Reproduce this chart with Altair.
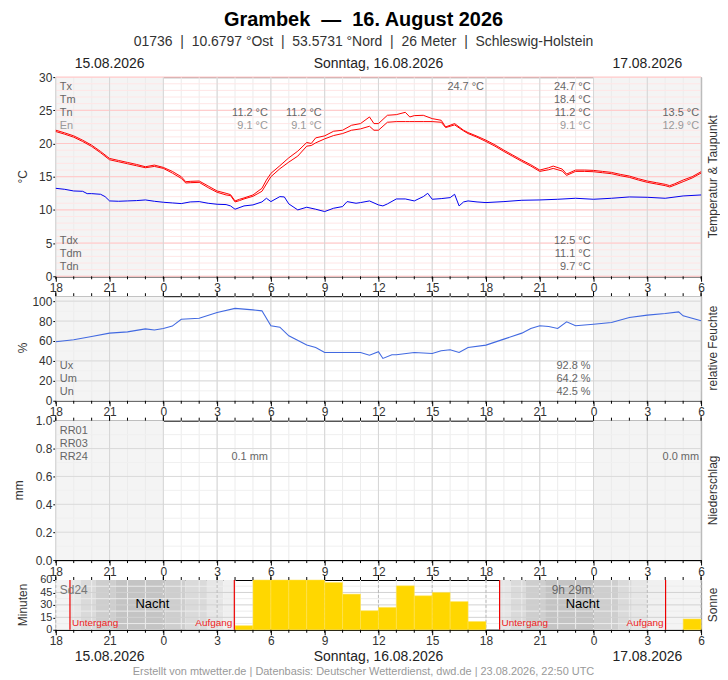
import altair as alt
import pandas as pd

FONT = "Liberation Sans"

# ---------------- data (x = hours since 15.08.2026 18:00 UTC) ----------------
t_time = [0, 0.5, 1, 1.5, 2, 2.5, 3, 3.5, 4, 4.5, 5, 5.5, 6, 6.5, 7,
          7.25, 7.5, 8, 8.5, 9, 9.5, 9.75,
          10, 10.25, 10.5, 11, 11.5, 11.75,
          12, 12.5, 13, 13.5, 14, 14.25, 14.5, 15, 15.5, 16, 16.5, 17, 17.5, 17.75,
          18, 18.5, 19, 19.5, 19.75, 20, 20.5, 21, 21.5, 21.75, 22.25, 22.75, 23, 23.5,
          24, 24.5, 25, 25.5, 26, 26.5, 27, 27.5, 27.75, 28.25, 28.5, 29, 29.5,
          30, 30.5, 31, 31.5, 32, 32.5, 33, 33.5, 34, 34.25, 34.5, 35, 35.5, 36]
t_air = [22.0, 21.6, 21.15, 20.5, 19.75, 18.8, 17.75, 17.45, 17.15, 16.85, 16.5, 16.75, 16.4, 15.8, 15.0,
         14.25, 14.3, 14.35, 13.6, 12.85, 12.5, 12.3,
         11.35, 11.6, 11.8, 12.25, 13.25, 14.5,
         15.5, 16.65, 17.85, 18.85, 20.15, 20.0, 20.85, 21.15, 21.85, 22.0, 22.75, 23.0, 24.0, 23.0,
         23.0, 24.25, 24.35, 24.7, 24.0, 24.2, 24.25, 23.75, 23.5, 22.5, 23.0, 22.0, 21.65, 21.1,
         20.5, 19.8, 19.0, 18.25, 17.5, 16.8, 16.0, 16.35, 16.6, 16.15, 15.4, 16.0, 16.0,
         15.95, 15.8, 15.65, 15.35, 15.1, 14.7, 14.35, 14.1, 13.85, 13.65, 13.9, 14.5, 15.0, 15.75]
t_low = [21.8, 21.4, 20.95, 20.3, 19.55, 18.6, 17.55, 17.25, 16.95, 16.65, 16.35, 16.55, 16.25, 15.55, 14.75,
         14.05, 14.1, 14.15, 13.35, 12.65, 12.25, 12.15,
         11.2, 11.4, 11.65, 12.05, 12.8, 13.9,
         15.0, 16.2, 17.2, 18.1, 19.6, 19.7, 20.1, 20.7, 21.2, 21.5, 22.0, 22.2, 22.6, 22.0,
         22.0, 23.2, 23.3, 23.3, 23.3, 23.3, 23.3, 23.3, 23.2, 22.4, 22.8, 21.9, 21.5, 20.95,
         20.3, 19.6, 18.8, 18.05, 17.3, 16.6, 15.8, 16.05, 16.25, 15.85, 15.2, 15.8, 15.8,
         15.75, 15.6, 15.45, 15.15, 14.9, 14.5, 14.15, 13.9, 13.65, 13.45, 13.7, 14.25, 14.8, 15.55]
dp_time = [0, 0.5, 1, 1.5, 1.75, 2, 2.5, 2.75, 3, 3.5,
           4, 4.5, 5, 5.5, 6, 6.5, 7, 7.5, 8, 8.5,
           9, 9.5, 9.75, 10, 10.5, 11, 11.5, 11.75, 12, 12.5,
           12.75, 13, 13.5, 14, 14.5, 15, 15.5, 16, 16.25, 16.75,
           17, 17.5, 18, 18.25, 18.5, 19, 19.5, 20, 20.5, 20.75,
           21, 21.5, 22, 22.25, 22.5, 22.75, 23, 23.5, 24, 25,
           26, 27, 28, 29, 30, 31, 32, 33, 34, 35, 36]
dp = [13.25, 13.1, 12.85, 12.8, 12.45, 12.45, 12.35, 12.0, 11.35, 11.3,
      11.35, 11.4, 11.5, 11.3, 11.15, 11.05, 10.95, 11.2, 11.25, 11.0,
      10.85, 10.8, 10.6, 10.1, 10.6, 10.75, 11.2, 11.75, 11.25, 12.0,
      11.95, 10.9, 10.0, 10.4, 10.1, 9.75, 10.25, 10.5, 11.25, 11.0,
      11.1, 11.35, 10.75, 10.6, 10.9, 11.65, 11.65, 11.35, 12.0, 12.5,
      11.6, 11.7, 11.85, 12.35, 10.6, 11.2, 11.35, 11.2, 11.1, 11.25,
      11.45, 11.5, 11.6, 11.75, 11.6, 11.75, 11.95, 11.9, 11.75, 12.1, 12.25]
rh_time = [0, 1, 2, 3, 4, 5, 5.5, 6, 6.5, 7, 8, 9, 10, 11, 11.5,
           12, 12.5, 13, 14, 14.5, 15, 16, 17, 17.5, 18, 18.25, 18.75, 19,
           20, 21, 21.5, 22, 22.5, 23, 24, 25, 26, 26.5, 27, 27.5, 28, 28.5, 29,
           30, 31, 32, 33, 34, 34.75, 35, 36]
rh = [59.2, 61.2, 64.5, 67.9, 69.2, 72.2, 71.0, 72.6, 75.0, 81.9, 82.9, 88.6, 92.8, 91.3, 90.3,
      75.3, 73.9, 65.2, 55.9, 53.5, 48.5, 48.5, 48.5, 45.8, 49.2, 42.5, 46.2, 46.2,
      48.5, 47.5, 50.2, 51.2, 48.5, 53.5, 55.9, 61.9, 67.9, 72.6, 75.3, 74.6, 72.6, 79.3, 75.3,
      76.9, 78.6, 83.6, 86.0, 87.6, 89.3, 85.3, 80.3]
sun_hour = [10, 11, 12, 13, 14, 15, 16, 17, 18, 19, 20, 21, 22, 23, 35]
sun_minutes = [5, 60, 60, 60, 60, 57, 43, 23, 27, 53, 41, 45, 34, 10, 13]
sunset_h = [0.79, 24.76]
sunrise_h = [9.96, 34.02]
dusk_start = [0.79, 1.39, 2.22, 3.33, 6.11, 7.22, 8.43, 9.35,
              24.76, 25.37, 26.2, 27.3, 30.07, 31.39, 32.13, 33.06]
dusk_end = [1.39, 2.22, 3.33, 6.11, 7.22, 8.43, 9.35, 9.96,
            25.37, 26.2, 27.3, 30.07, 31.39, 32.13, 33.06, 34.02]
dusk_level = [1, 2, 3, 4, 3, 2, 1, 0,
              1, 2, 3, 4, 3, 2, 1, 0]
offday_start = [0, 30]
offday_end = [6, 36]
x_ticks = list(range(0, 37, 3))
hour_ticks = list(range(0, 37))

# ---------------- geometry ----------------
W = 648
HT, HH, HP, HS = 200, 105, 140, 50
ONE = pd.DataFrame({"d": [0]})

xs = alt.Scale(domain=[0, 36], nice=False, zero=False)
xaxis = alt.Axis(values=x_ticks, labelExpr="toString((datum.value + 18) % 24)",
                 tickSize=5, tickColor="black", domainColor="black", labelColor="#333",
                 labelFontSize=12, labelFont=FONT, grid=False, title=None, labelPadding=1,
                 labelFlush=False, labelOverlap=False)
X = alt.X("h:Q", scale=xs, axis=xaxis)

hours_df = pd.DataFrame({"h": hour_ticks})
major_df = pd.DataFrame({"h": x_ticks})
off_df = pd.DataFrame({"h": offday_start, "h2": offday_end})


def yenc(domain, values, fmt=None, size=12):
    ax = dict(values=values, tickSize=3, tickColor="black", domainColor="black",
              labelColor="#333", labelFontSize=size, labelFont=FONT, grid=False,
              title=None, labelPadding=1, labelFlush=False, labelOverlap=False)
    if fmt:
        ax["format"] = fmt
    return alt.Y("v:Q", scale=alt.Scale(domain=domain, nice=False, zero=False),
                 axis=alt.Axis(**ax))


def txt(s, x, y, size=11, color="#666", align="left", weight="normal", angle=0,
        baseline="middle"):
    return alt.Chart(ONE).mark_text(text=s, align=align, baseline=baseline, fontSize=size,
                                    color=color, font=FONT, fontWeight=weight,
                                    angle=angle).encode(x=alt.value(x), y=alt.value(y))


def bg_layer(H):
    return alt.Chart(off_df).mark_rect(color="#f4f4f4").encode(
        x=X, x2="h2:Q", y=alt.value(0), y2=alt.value(H))


def grid_layers(Y, hminor, hmajor, cminor, cmajor, vdash=None):
    ls = []
    ls.append(alt.Chart(hours_df).mark_rule(color="#ececec").encode(x=X))
    ls.append(alt.Chart(pd.DataFrame({"v": hminor})).mark_rule(color=cminor).encode(y=Y))
    ls.append(alt.Chart(pd.DataFrame({"v": hmajor})).mark_rule(color=cmajor).encode(y=Y))
    if vdash:
        ls.append(alt.Chart(major_df).mark_rule(color="#b8b8b8", strokeDash=vdash).encode(x=X))
    else:
        ls.append(alt.Chart(major_df).mark_rule(color="#d6d6d6").encode(x=X))
    return ls


def tick_layers(H, top=True):
    ls = [alt.Chart(hours_df).mark_rule(color="black").encode(
        x=X, y=alt.value(H), y2=alt.value(H + 3))]
    if top:
        ls.append(alt.Chart(hours_df).mark_rule(color="black").encode(
            x=X, y=alt.value(0), y2=alt.value(-3)))
        ls.append(alt.Chart(major_df).mark_rule(color="black").encode(
            x=X, y=alt.value(0), y2=alt.value(-5)))
    return ls


# ---------------- temperature panel ----------------
YT = yenc([0, 30], list(range(0, 31, 5)))
red1 = alt.Chart(pd.DataFrame({"h": t_time, "v": t_air})).mark_line(
    color="#ff0000", strokeWidth=1).encode(x=X, y=YT)
red2 = alt.Chart(pd.DataFrame({"h": t_time, "v": t_low})).mark_line(
    color="#ff0000", strokeWidth=1).encode(x=X, y=YT)
blue = alt.Chart(pd.DataFrame({"h": dp_time, "v": dp})).mark_line(
    color="#0000ee", strokeWidth=1).encode(x=X, y=YT)

anchor = alt.Chart(ONE).mark_rect(opacity=0).encode(
    x=alt.value(-47), x2=alt.value(665), y=alt.value(-67), y2=alt.value(597))

temp_layers = [anchor, bg_layer(HT)] + grid_layers(
    YT, list(range(0, 31)), list(range(0, 31, 5)), "#ffe6e6", "#ffc6c6") + [red1, red2, blue] + tick_layers(HT, top=False)
temp_layers += [
    txt("Grambek\u00a0\u00a0—\u00a0\u00a016. August 2026", 309, -57, size=20, color="#000",
        align="center", weight="bold"),
    txt("01736\u00a0\u00a0|\u00a0\u00a010.6797 °Ost\u00a0\u00a0|\u00a0\u00a053.5731 °Nord\u00a0\u00a0|\u00a0\u00a026 Meter\u00a0\u00a0|\u00a0\u00a0Schleswig-Holstein",
        309, -35, size=14, color="#333", align="center"),
    txt("15.08.2026", 54, -13, size=14, color="#222", align="center"),
    txt("Sonntag, 16.08.2026", 324, -13, size=14, color="#222", align="center"),
    txt("17.08.2026", 594, -13, size=14, color="#222", align="center"),
    txt("°C", -33, 100, size=12, color="#333", align="center", angle=270),
    txt("Temperatur & Taupunkt", 660, 100, size=12, color="#333", align="center", angle=270),
    txt("Tx", 4, 10), txt("Tm", 4, 23), txt("Tn", 4, 36), txt("En", 4, 49, color="#999"),
    txt("Tdx", 4, 165), txt("Tdm", 4, 178), txt("Tdn", 4, 191),
    txt("11.2 °C", 213, 36, align="right"), txt("9.1 °C", 213, 49, align="right", color="#999"),
    txt("11.2 °C", 267, 36, align="right"), txt("9.1 °C", 267, 49, align="right", color="#999"),
    txt("24.7 °C", 430, 10, align="right"),
    txt("24.7 °C", 537, 10, align="right"), txt("18.4 °C", 537, 23, align="right"),
    txt("11.2 °C", 537, 36, align="right"), txt("9.1 °C", 537, 49, align="right", color="#999"),
    txt("13.5 °C", 646, 36, align="right"), txt("12.9 °C", 646, 49, align="right", color="#999"),
    txt("12.5 °C", 537, 165, align="right"), txt("11.1 °C", 537, 178, align="right"),
    txt("9.7 °C", 537, 191, align="right"),
]
temp = alt.layer(*temp_layers).properties(width=W, height=HT)

# ---------------- humidity panel ----------------
YH = yenc([0, 105], list(range(0, 101, 20)))
hum_line = alt.Chart(pd.DataFrame({"h": rh_time, "v": rh})).mark_line(
    color="#4169e1", strokeWidth=1.1).encode(x=X, y=YH)
hum_layers = [bg_layer(HH)] + grid_layers(
    YH, list(range(0, 101, 10)), list(range(0, 101, 20)), "#f0f0f0", "#dadada") + [hum_line] + tick_layers(HH)
hum_layers += [
    txt("%", -33, 52, size=12, color="#333", align="center", angle=270),
    txt("relative Feuchte", 660, 52, size=12, color="#333", align="center", angle=270),
    txt("Ux", 4, 70), txt("Um", 4, 83), txt("Un", 4, 96),
    txt("92.8 %", 537, 70, align="right"), txt("64.2 %", 537, 83, align="right"),
    txt("42.5 %", 537, 96, align="right"),
]
hum = alt.layer(*hum_layers).properties(width=W, height=HH)

# ---------------- precipitation panel ----------------
YP = yenc([0, 1], [0, 0.2, 0.4, 0.6, 0.8, 1.0], ".1f")
prec_layers = [bg_layer(HP)] + grid_layers(
    YP, [0.1, 0.3, 0.5, 0.7, 0.9], [0.2, 0.4, 0.6, 0.8], "#f0f0f0", "#dadada") + tick_layers(HP)
prec_layers += [
    txt("mm", -37, 70, size=12, color="#333", align="center", angle=270),
    txt("Niederschlag", 660, 70, size=12, color="#333", align="center", angle=270),
    txt("RR01", 4, 10), txt("RR03", 4, 23), txt("RR24", 4, 36),
    txt("0.1 mm", 213, 36, align="right"), txt("0.0 mm", 646, 36, align="right"),
]
prec = alt.layer(*prec_layers).properties(width=W, height=HP)

# ---------------- sunshine panel ----------------
YS = yenc([0, 60], [0, 15, 30, 45, 60], size=11)
dusk_df = pd.DataFrame({"h": dusk_start, "h2": dusk_end, "lvl": dusk_level})
dusk = alt.Chart(dusk_df).mark_rect().encode(
    x=X, x2="h2:Q", y=alt.value(0), y2=alt.value(HS),
    color=alt.Color("lvl:O", scale=alt.Scale(domain=[0, 1, 2, 3, 4],
                                             range=["#f0f0f0", "#e6e6e6", "#dadada", "#cecece", "#c4c4c4"]),
                    legend=None))
sun_df = pd.DataFrame({"h": sun_hour, "v": sun_minutes})
bars = alt.Chart(sun_df).transform_calculate(h2="datum.h + 1").mark_rect(
    color="#ffd700", stroke="#ffe45c", strokeWidth=0.5).encode(
    x=X, x2="h2:Q", y=YS, y2=alt.datum(0))
set_df = pd.DataFrame({"h": sunset_h})
rise_df = pd.DataFrame({"h": sunrise_h})
red_lines = alt.Chart(pd.DataFrame({"h": sunset_h + sunrise_h})).mark_rule(
    color="#ee0000", strokeWidth=1.2).encode(x=X)
set_txt = alt.Chart(set_df).mark_text(text="Untergang", align="left", dx=2, fontSize=10,
                                      color="#ee2222", font=FONT).encode(x=X, y=alt.value(43))
rise_txt = alt.Chart(rise_df).mark_text(text="Aufgang", align="right", dx=-2, fontSize=10,
                                        color="#ee2222", font=FONT).encode(x=X, y=alt.value(43))
sun_layers = [bg_layer(HS), dusk] + grid_layers(
    YS, [7.5, 22.5, 37.5, 52.5], [15, 30, 45], "#ececec", "#d2d2d2", vdash=[3, 2]) + [
    bars, red_lines, set_txt, rise_txt] + tick_layers(HS)
sun_layers += [
    txt("Minuten", -33, 25, size=12, color="#333", align="center", angle=270),
    txt("Sonne", 660, 25, size=12, color="#333", align="center", angle=270),
    txt("Sd24", 4, 10, size=12, color="#777"),
    txt("9h 29m", 518, 10, size=12, color="#666", align="center"),
    txt("Nacht", 97, 24, size=13, color="#000", align="center"),
    txt("Nacht", 529, 24, size=13, color="#000", align="center"),
    txt("15.08.2026", 54, 77, size=14, color="#222", align="center"),
    txt("Sonntag, 16.08.2026", 324, 77, size=14, color="#222", align="center"),
    txt("17.08.2026", 594, 77, size=14, color="#222", align="center"),
    txt("Erstellt von mtwetter.de | Datenbasis: Deutscher Wetterdienst, dwd.de | 23.08.2026, 22:50 UTC",
        309, 92, size=11, color="#999", align="center"),
]
sun = alt.layer(*sun_layers).properties(width=W, height=HS)

chart = alt.vconcat(temp, hum, prec, sun, spacing=20, bounds="flush").resolve_scale(
    color="independent"
).properties(
    padding=0, background="white"
).configure_view(stroke="black", strokeWidth=1)

chart.save("out.html", embed_options={"renderer": "svg", "actions": False})
